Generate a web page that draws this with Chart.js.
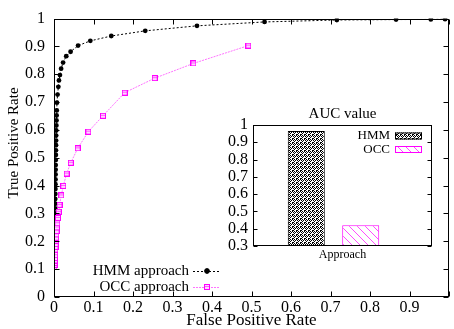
<!DOCTYPE html>
<html><head><meta charset="utf-8">
<script src="https://cdn.jsdelivr.net/npm/chart.js@4/dist/chart.umd.min.js"></script>
<style>
html,body{margin:0;padding:0;background:#fff;}
#wrap{position:relative;width:454px;height:329px;overflow:hidden;background:#fff;}
#main{position:absolute;left:0;top:0;}
#inset{position:absolute;left:210px;top:95px;}
</style></head><body>
<div id="wrap"><canvas id="main" width="454" height="329"></canvas><canvas id="inset" width="235" height="170"></canvas></div>
<script>
// ---- data ----
const hmmFPR = [0.0008,0.0010,0.0011,0.0013,0.0015,0.0016,0.0018,0.0020,0.0021,0.0023,0.0025,0.0026,0.0028,0.0030,0.0031,0.0033,0.0035,0.0036,0.0038,0.0040,0.0041,0.0043,0.0045,0.0047,0.0049,0.0051,0.0053,0.0055,0.0057,0.0060,0.0063,0.0066,
  0.007,0.0075,0.009,0.011,0.0125,0.015,0.018,0.023,0.031,0.042,0.061,0.092,0.145,0.231,0.362,0.533,0.716,0.866,0.954,0.99];
const hmmTPR = [0.110,0.126,0.143,0.160,0.178,0.195,0.212,0.230,0.248,0.265,0.283,0.300,0.318,0.335,0.352,0.370,0.388,0.405,0.422,0.440,0.457,0.474,0.492,0.510,0.527,0.545,0.562,0.580,0.598,0.616,0.634,0.652,
  0.670,0.698,0.727,0.755,0.778,0.797,0.820,0.842,0.865,0.881,0.903,0.920,0.9375,0.956,0.974,0.988,0.995,0.9965,0.997,0.998];
const occFPR = [0.0012,0.0015,0.0018,0.0021,0.0024,0.0027,0.0031,0.0035,0.0039,0.0043,0.0048,0.0053,0.0058,0.0065,0.0073,0.0085,0.010,0.012,0.014,0.0185,0.0235,0.032,0.0425,0.06,0.087,0.124,0.179,0.255,0.353,0.492];
const occTPR = [0.108,0.115,0.122,0.131,0.140,0.150,0.160,0.170,0.180,0.190,0.202,0.213,0.225,0.237,0.250,0.265,0.284,0.306,0.331,0.365,0.399,0.4435,0.482,0.534,0.594,0.651,0.734,0.786,0.839,0.903];
const seriesNames = ['HMM approach','OCC approach'];
const xTickLabels = ['0','0.1','0.2','0.3','0.4','0.5','0.6','0.7','0.8','0.9',''];
const yTickLabels = ['0','0.1','0.2','0.3','0.4','0.5','0.6','0.7','0.8','0.9','1'];
const xTitle = 'False Positive Rate';
const yTitle = 'True Positive Rate';

const aucTitle = 'AUC value';
const aucCategories = ['Approach'];
const aucNames = ['HMM','OCC'];
const aucValues = [0.965, 0.42];
const aucTickLabels = ['0.3','0.4','0.5','0.6','0.7','0.8','0.9','1'];

// ---- styles ----
const SERIF = 'Liberation Serif';
const MAG = '#ff00ff';

function makeSquareMarker(){
  const c = document.createElement('canvas'); c.width = 6; c.height = 6;
  const g = c.getContext('2d');
  g.fillStyle = MAG; g.fillRect(0,0,6,6);
  g.fillStyle = '#ffd6ff'; g.fillRect(1,1,4,4);
  g.fillStyle = '#ff5cff'; g.fillRect(1,2,4,1);
  return c;
}
const sqMarker = makeSquareMarker();

function crossPattern(ctx){
  const c = document.createElement('canvas'); c.width = 4; c.height = 4;
  const g = c.getContext('2d');
  g.fillStyle = '#fff'; g.fillRect(0,0,4,4);
  g.fillStyle = '#000';
  [[0,0],[2,0],[1,1],[3,1],[0,2],[2,3],[3,3]].forEach(p=>g.fillRect(p[0],p[1],1,1));
  return ctx.createPattern(c,'repeat');
}
function hatchPattern(ctx){
  const c = document.createElement('canvas'); c.width = 8; c.height = 8;
  const g = c.getContext('2d');
  g.fillStyle = '#fff'; g.fillRect(0,0,8,8);
  g.strokeStyle = 'rgba(255,0,255,0.7)'; g.lineWidth = 1;
  g.beginPath(); g.moveTo(-1,-1); g.lineTo(9,9); g.stroke();
  g.beginPath(); g.moveTo(-1,7); g.lineTo(1,9); g.stroke();
  g.beginPath(); g.moveTo(7,-1); g.lineTo(9,1); g.stroke();
  return ctx.createPattern(c,'repeat');
}

// frame + inward ticks (extraRight widens the drawn frame beyond the data area)
function framePlugin(id, len, xTicks, extraRight){
  return {id, afterDraw(chart){
    const {ctx, chartArea:{left,right,top,bottom}, scales:{x,y}} = chart;
    const L = Math.round(left)+0.5, R = Math.round(right+extraRight)-0.5, T = Math.round(top)+0.5, B = Math.round(bottom)-0.5;
    ctx.save();
    ctx.strokeStyle = '#000'; ctx.lineWidth = 1;
    ctx.strokeRect(L, T, R-L, B-T);
    ctx.beginPath();
    y.ticks.forEach(t=>{ const p = Math.round(y.getPixelForValue(t.value))+0.5;
      ctx.moveTo(L,p); ctx.lineTo(L+len,p); ctx.moveTo(R,p); ctx.lineTo(R-len,p); });
    if (xTicks) x.ticks.forEach(t=>{ const p = Math.round(x.getPixelForValue(t.value))+0.5;
      ctx.moveTo(p,B); ctx.lineTo(p,B-len); ctx.moveTo(p,T); ctx.lineTo(p,T+len); });
    ctx.stroke();
    ctx.restore();
  }};
}

const mainLegend = {id:'mainLegend', afterDraw(chart){
  const ctx = chart.ctx;
  const rows = [271, 287];
  ctx.save();
  chart.data.datasets.forEach((ds,i)=>{
    const yy = rows[i];
    ctx.font = '15px "'+SERIF+'"'; ctx.fillStyle = '#000';
    ctx.textAlign = 'right'; ctx.textBaseline = 'middle';
    ctx.fillText(ds.label, 189, yy);
    ctx.strokeStyle = ds.borderColor; ctx.lineWidth = ds.borderWidth; ctx.setLineDash(ds.borderDash);
    ctx.beginPath(); ctx.moveTo(193, yy+0.5); ctx.lineTo(219, yy+0.5); ctx.stroke();
    ctx.setLineDash([]);
    Chart.helpers.drawPoint(ctx, {pointStyle: ds.pointStyle, radius: ds.pointRadius, rotation:0, borderWidth: 1}, 207, yy);
  });
  ctx.restore();
}};

const yTitlePlugin = {id:'yTitle', afterDraw(chart){
  const ctx = chart.ctx;
  ctx.save();
  ctx.translate(14, 143); ctx.rotate(-Math.PI/2);
  ctx.font = '15px "'+SERIF+'"'; ctx.fillStyle = '#000';
  ctx.textAlign = 'center'; ctx.textBaseline = 'middle';
  ctx.fillText(yTitle, 0, 0);
  ctx.restore();
}};

const mainCanvas = document.getElementById('main');
new Chart(mainCanvas, {
  type: 'scatter',
  data: { datasets: [
    { label: seriesNames[0], data: hmmFPR.map((v,i)=>({x:v, y:hmmTPR[i]})), showLine:true, order:1,
      borderColor:'#000', backgroundColor:'#000', borderWidth:1, borderDash:[2,2],
      pointStyle:'circle', pointRadius:2.4, pointBackgroundColor:'#000', pointBorderWidth:0 },
    { label: seriesNames[1], data: occFPR.map((v,i)=>({x:v, y:occTPR[i]})), showLine:true, order:0,
      borderColor:'rgba(255,0,255,0.55)', backgroundColor:MAG, borderWidth:1, borderDash:[2,1],
      pointStyle:sqMarker, pointRadius:3 }
  ]},
  options: {
    responsive:false, devicePixelRatio:1, animation:false,
    layout:{padding:{top:13,left:0,right:0,bottom:0}},
    plugins:{legend:{display:false}, tooltip:{enabled:false}},
    scales:{
      x:{type:'linear', min:0, max:1,
        ticks:{stepSize:0.1, autoSkip:false, maxRotation:0, padding:1, color:'#000',
          font:{family:SERIF, size:16}, callback:(v,i)=>xTickLabels[i]},
        grid:{display:false, drawTicks:false}, border:{display:false},
        title:{display:true, text:xTitle, color:'#000', font:{family:SERIF, size:17}, padding:{top:0,bottom:-2}},
        afterFit(s){ s.height = 32; } },
      y:{type:'linear', min:0, max:1,
        ticks:{stepSize:0.1, autoSkip:false, padding:9, color:'#000',
          font:{family:SERIF, size:16}, callback:(v,i)=>yTickLabels[i]},
        grid:{display:false, drawTicks:false}, border:{display:false},
        afterFit(s){ s.width = 54; } }
    }
  },
  plugins:[framePlugin('mainFrame', 5, true, 0), mainLegend, yTitlePlugin]
});

const INSET_EXTRA = 18;
const insetCanvas = document.getElementById('inset');
const ictx = insetCanvas.getContext('2d');
const insetDecor = {id:'insetDecor', afterDraw(chart){
  const ctx = chart.ctx;
  const {left, right} = chart.chartArea;
  ctx.save();
  // title
  ctx.font = '15px "'+SERIF+'"'; ctx.fillStyle = '#000';
  ctx.textAlign = 'center'; ctx.textBaseline = 'middle';
  ctx.fillText(aucTitle, (left + right + INSET_EXTRA)/2, 19);
  // legend
  const rows = [41, 54.5];
  const bx = right + INSET_EXTRA - 37;
  chart.data.datasets.forEach((ds,i)=>{
    const yy = rows[i];
    ctx.font = '13px "'+SERIF+'"'; ctx.fillStyle = '#000';
    ctx.textAlign = 'right'; ctx.textBaseline = 'middle';
    ctx.fillText(ds.label, bx - 5, yy);
    ctx.fillStyle = ds.backgroundColor;
    ctx.fillRect(bx, yy-3.5, 27, 7);
    ctx.strokeStyle = ds.borderColor; ctx.lineWidth = 1;
    ctx.strokeRect(bx+0.5, yy-3, 26, 6);
  });
  ctx.restore();
}};
new Chart(insetCanvas, {
  type:'bar',
  data:{ labels: aucCategories, datasets:[
    { label: aucNames[0], data:[aucValues[0]], backgroundColor: crossPattern(ictx), borderColor:'#000', borderWidth:1 },
    { label: aucNames[1], data:[aucValues[1]], backgroundColor: hatchPattern(ictx), borderColor:MAG, borderWidth:1 }
  ]},
  options:{
    responsive:false, devicePixelRatio:1, animation:false,
    layout:{padding:{top:30,left:0,right:13+INSET_EXTRA,bottom:0}},
    datasets:{bar:{categoryPercentage:0.676, barPercentage:0.68}},
    plugins:{legend:{display:false}, tooltip:{enabled:false}, title:{display:false}},
    scales:{
      x:{ticks:{padding:2, labelOffset:9, color:'#000', font:{family:SERIF, size:12}},
        grid:{display:false, drawTicks:false}, border:{display:false},
        afterFit(s){ s.height = 19; } },
      y:{min:0.3, max:1,
        ticks:{stepSize:0.1, autoSkip:false, padding:5, color:'#000', font:{family:SERIF, size:16}, callback:(v,i)=>aucTickLabels[i]},
        grid:{display:false, drawTicks:false}, border:{display:false},
        afterFit(s){ s.width = 43; } }
    }
  },
  plugins:[framePlugin('insetFrame', 4, false, INSET_EXTRA), insetDecor]
});
</script>
</body></html>
